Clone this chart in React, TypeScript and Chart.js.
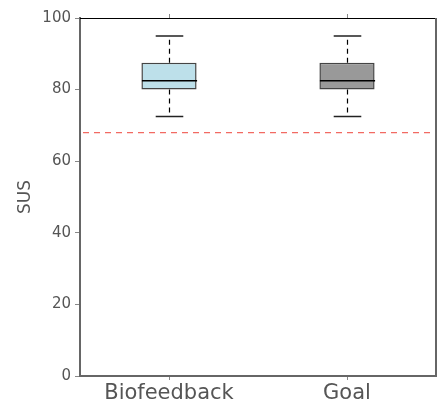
import React, { useEffect, useRef } from "react";
import { Chart, registerables } from "chart.js";

Chart.register(...registerables);

const categories = ["Biofeedback", "Goal"];
const whiskerLow = [72.5, 72.5];
const quartile1 = [80, 80];
const medians = [82.5, 82.5];
const quartile3 = [87.5, 87.5];
const whiskerHigh = [95, 95];
const boxColors = ["#bde0ea", "#999999"];
const referenceValue = 68;
const yTickValues = [0, 20, 40, 60, 80, 100];

const FONT = "'DejaVu Sans', sans-serif";

const boxPlugin = {
  id: "boxExtras",
  afterDatasetsDraw(chart: any) {
    const { ctx, chartArea, scales } = chart;
    const xs = scales.x;
    const ys = scales.y;
    const meta = chart.getDatasetMeta(0);
    ctx.save();
    // reference line
    const yr = ys.getPixelForValue(referenceValue);
    ctx.strokeStyle = "rgba(240,80,70,0.85)";
    ctx.lineWidth = 1.3;
    ctx.setLineDash([6, 5]);
    ctx.beginPath();
    ctx.moveTo(chartArea.left + 3, yr);
    ctx.lineTo(chartArea.right, yr);
    ctx.stroke();

    categories.forEach((_, i) => {
      const x = Math.round(xs.getPixelForValue(i)) + 0.5;
      const bar = meta.data[i];
      const half = bar ? bar.width / 2 : 27;
      const capHalf = half / 2;
      // whiskers
      ctx.strokeStyle = "#000";
      ctx.lineWidth = 1.2;
      ctx.setLineDash([5, 4]);
      ctx.beginPath();
      ctx.moveTo(x, ys.getPixelForValue(quartile3[i]));
      ctx.lineTo(x, ys.getPixelForValue(whiskerHigh[i]));
      ctx.moveTo(x, ys.getPixelForValue(quartile1[i]));
      ctx.lineTo(x, ys.getPixelForValue(whiskerLow[i]));
      ctx.stroke();
      ctx.setLineDash([]);
      // caps
      ctx.lineWidth = 1.5;
      ctx.strokeStyle = "#222";
      ctx.beginPath();
      const yh = ys.getPixelForValue(whiskerHigh[i]);
      const yl = ys.getPixelForValue(whiskerLow[i]);
      ctx.moveTo(x - capHalf, yh);
      ctx.lineTo(x + capHalf, yh);
      ctx.moveTo(x - capHalf, yl);
      ctx.lineTo(x + capHalf, yl);
      ctx.stroke();
      // median
      const ym = ys.getPixelForValue(medians[i]);
      ctx.strokeStyle = "#000";
      ctx.beginPath();
      ctx.moveTo(x - half, ym);
      ctx.lineTo(x + half, ym);
      ctx.stroke();
      // top ticks
      ctx.strokeStyle = "#888";
      ctx.lineWidth = 1;
      ctx.beginPath();
      ctx.moveTo(x, chartArea.top);
      ctx.lineTo(x, chartArea.top - 4);
      ctx.stroke();
    });
    // spines
    ctx.setLineDash([]);
    ctx.strokeStyle = "#000";
    ctx.lineWidth = 1;
    ctx.beginPath();
    ctx.moveTo(chartArea.left, chartArea.top + 0.5);
    ctx.lineTo(chartArea.right, chartArea.top + 0.5);
    ctx.stroke();
    ctx.strokeStyle = "#666";
    ctx.lineWidth = 2;
    ctx.beginPath();
    ctx.moveTo(chartArea.right, chartArea.top);
    ctx.lineTo(chartArea.right, chartArea.bottom);
    ctx.stroke();
    ctx.restore();
  },
};

export default function App() {
  const ref = useRef<HTMLCanvasElement>(null);
  useEffect(() => {
    document.body.style.margin = "0";
    const chart = new Chart(ref.current!, {
      type: "bar",
      data: {
        labels: categories,
        datasets: [
          {
            data: categories.map((_, i) => [quartile1[i], quartile3[i]]),
            backgroundColor: boxColors,
            borderColor: "#444",
            borderWidth: 1.5,
            borderSkipped: false,
            barPercentage: 0.31,
            categoryPercentage: 1,
          } as any,
        ],
      },
      options: {
        responsive: false,
        animation: false,
        layout: { padding: { top: 18, right: 2, left: 0, bottom: 0 } },
        plugins: { legend: { display: false }, tooltip: { enabled: false } },
        scales: {
          x: {
            offset: true,
            grid: { offset: false, drawOnChartArea: false, drawTicks: true, tickLength: 4, color: "#888" },
            border: { display: true, color: "#666", width: 2 },
            ticks: { color: "#555", font: { family: FONT, size: 21 }, padding: 1 },
            afterFit: (s: any) => { s.height = 27; },
          },
          y: {
            min: 0,
            max: 100,
            afterBuildTicks: (s: any) => { s.ticks = yTickValues.map((v) => ({ value: v })); },
            grid: { drawOnChartArea: false, drawTicks: true, tickLength: 5, color: "#888" },
            border: { display: true, color: "#666", width: 2 },
            ticks: { color: "#555", font: { family: FONT, size: 15 }, padding: 4 },
            title: { display: true, text: "SUS", color: "#555", font: { family: FONT, size: 17 }, padding: { top: 15, bottom: 0 } },
            afterFit: (s: any) => { s.width = 80; },
          },
        },
      },
      plugins: [boxPlugin],
    });
    return () => chart.destroy();
  }, []);
  return (
    <div style={{ width: 438, height: 403 }}>
      <canvas ref={ref} width={438} height={403} />
    </div>
  );
}
